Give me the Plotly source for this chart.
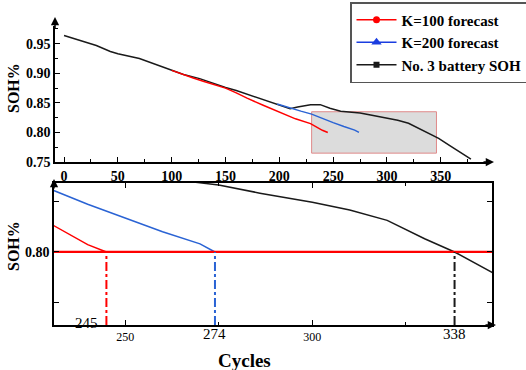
import plotly.graph_objects as go

# ---------------- data ----------------
soh_cycles = [0, 12, 30, 43, 50, 70, 83, 100, 111, 126, 140, 150, 160, 170, 185,
              200, 210, 217, 229, 238, 247, 257, 266, 275, 286, 300, 310, 320,
              330, 338, 348, 358, 368, 378]
soh_values = [0.964, 0.957, 0.947, 0.937, 0.933, 0.925, 0.916, 0.905, 0.898, 0.891,
              0.882, 0.876, 0.871, 0.865, 0.855, 0.846, 0.840, 0.843, 0.847, 0.847,
              0.841, 0.836, 0.835, 0.833, 0.829, 0.8245, 0.8207, 0.8156, 0.8065,
              0.800, 0.790, 0.778, 0.767, 0.755]

k100_cycles = [100, 110, 120, 130, 140, 150, 160, 170, 185, 201, 215, 229, 240, 245]
k100_values = [0.905, 0.898, 0.892, 0.886, 0.880, 0.875, 0.867, 0.858, 0.846, 0.833,
               0.823, 0.815, 0.8036, 0.800]

k200_cycles = [198, 210, 220, 230, 240, 250, 260, 270, 274]
k200_values = [0.848, 0.841, 0.836, 0.831, 0.8235, 0.8166, 0.810, 0.804, 0.800]

threshold = 0.80
eol_cycles = [245, 274, 338]
eol_labels = ["245", "274", "338"]
zoom_x = [231, 348]
zoom_y = [0.764, 0.834]

top_yticks = [0.75, 0.80, 0.85, 0.90, 0.95]
top_ytext = ["0.75", "0.80", "0.85", "0.90", "0.95"]
top_xticks = [0, 50, 100, 150, 200, 250, 300, 350]

names = ["K=100 forecast", "K=200 forecast", "No. 3 battery SOH"]

# ---------------- style ----------------
RED = "#ff0000"
BLUE = "#2a63d4"
BLACK = "#1a1a1a"
FONT = "Liberation Serif"
W, H = 526, 370


def px(x):
    return x / W


def py(y):
    return 1 - y / H


fig = go.Figure()

# top panel
fig.add_trace(go.Scatter(x=soh_cycles, y=soh_values, mode="lines",
                         line=dict(color=BLACK, width=1.5), showlegend=False,
                         xaxis="x", yaxis="y"))
fig.add_trace(go.Scatter(x=k100_cycles, y=k100_values, mode="lines",
                         line=dict(color=RED, width=1.5), showlegend=False,
                         xaxis="x", yaxis="y"))
fig.add_trace(go.Scatter(x=k200_cycles, y=k200_values, mode="lines",
                         line=dict(color=BLUE, width=1.5), showlegend=False,
                         xaxis="x", yaxis="y"))

# bottom panel (zoom)
fig.add_trace(go.Scatter(x=soh_cycles, y=soh_values, mode="lines",
                         line=dict(color=BLACK, width=1.5), showlegend=False,
                         xaxis="x2", yaxis="y2"))
fig.add_trace(go.Scatter(x=k100_cycles, y=k100_values, mode="lines",
                         line=dict(color=RED, width=1.5), showlegend=False,
                         xaxis="x2", yaxis="y2"))
fig.add_trace(go.Scatter(x=k200_cycles, y=k200_values, mode="lines",
                         line=dict(color=BLUE, width=1.5), showlegend=False,
                         xaxis="x2", yaxis="y2"))
fig.add_trace(go.Scatter(x=zoom_x, y=[threshold, threshold], mode="lines",
                         line=dict(color=RED, width=2.2), showlegend=False,
                         xaxis="x2", yaxis="y2"))
for c, col in zip(eol_cycles, [RED, BLUE, BLACK]):
    fig.add_trace(go.Scatter(x=[c, c], y=[zoom_y[0], threshold], mode="lines",
                             line=dict(color=col, width=2, dash="dashdot"),
                             showlegend=False, xaxis="x2", yaxis="y2"))

# legend entries
for nm, col, sym, sz in zip(names, [RED, "#1a3de0", BLACK],
                            ["circle", "triangle-up", "square"], [7, 9, 6]):
    fig.add_trace(go.Scatter(x=[None], y=[None], mode="lines+markers", name=nm,
                             line=dict(color=col, width=1.5),
                             marker=dict(symbol=sym, size=sz, color=col)))

# gray zoom rectangle on top panel
fig.add_shape(type="rect", xref="x", yref="y", x0=zoom_x[0] - 1, x1=zoom_x[1] - 2,
              y0=zoom_y[0] + 0.001, y1=zoom_y[1] + 0.001,
              fillcolor="#dcdcdc", line=dict(color="#e08a8a", width=1), layer="below")

axis_font = dict(family=FONT, size=14, color="black", weight="bold")

fig.update_layout(
    template="none",
    width=W, height=H, margin=dict(l=0, r=0, t=0, b=0, autoexpand=False),
    paper_bgcolor="white", plot_bgcolor="rgba(0,0,0,0)",
    font=dict(family=FONT, color="black"),
    xaxis=dict(domain=[px(55), px(486)], range=[-8.4, 392], tickvals=top_xticks,
               ticks="inside", ticklen=5, tickwidth=1.2, tickcolor="black",
               minor=dict(ticks="inside", dtick=25, tick0=0, ticklen=3, tickcolor="black"),
               showline=True, linecolor="black", linewidth=1.5, showgrid=False,
               zeroline=False, tickfont=axis_font, anchor="y", automargin=False),
    yaxis=dict(domain=[py(162), py(26)], range=[0.75, 0.98], tickvals=top_yticks,
               ticktext=top_ytext, ticks="inside", ticklen=5, tickwidth=1.2,
               tickcolor="black",
               minor=dict(ticks="inside", dtick=0.025, tick0=0.75, ticklen=3,
                          tickcolor="black"),
               showline=True, linecolor="black", linewidth=1.5, showgrid=False,
               zeroline=False, tickfont=axis_font, anchor="x", automargin=False),
    xaxis2=dict(domain=[px(54), px(492)], range=zoom_x, tickvals=[250, 300],
                ticks="inside", ticklen=5, tickwidth=1.2, tickcolor="black",
                minor=dict(tickvals=[275, 325], ticks="inside", ticklen=3,
                           tickcolor="black"),
                showline=True, linecolor="black", linewidth=1.5, mirror="ticks",
                showgrid=False, zeroline=False,
                tickfont=dict(family=FONT, size=12, color="black"), anchor="y2",
                automargin=False),
    yaxis2=dict(domain=[py(325), py(183)], range=zoom_y,
                tickvals=[0.775, threshold, 0.825], ticktext=["", "0.80", ""],
                ticks="inside", ticklen=5, tickwidth=1.2, tickcolor="black",
                showline=True, linecolor="black", linewidth=1.5, mirror="ticks",
                showgrid=False, zeroline=False, tickfont=axis_font, anchor="x2",
                automargin=False),
    legend=dict(x=px(350), y=py(2), xanchor="left", yanchor="top",
                bgcolor="white", bordercolor="#555555", borderwidth=1.5,
                font=dict(family=FONT, size=15, color="black", weight="bold"),
                itemwidth=40, tracegroupgap=0),
)

ann = []
# axis arrows (tail given as pixel offset from tip)
arrow = dict(showarrow=True, arrowhead=2, arrowsize=1.1, arrowwidth=1.5,
             arrowcolor="black", xref="paper", yref="paper", axref="pixel",
             ayref="pixel", text="", standoff=0)
ann.append(dict(arrow, x=px(55), y=py(17), ax=0, ay=13))
ann.append(dict(arrow, x=px(494), y=py(162), ax=-12, ay=0))
ann.append(dict(arrow, x=px(54), y=py(179), ax=0, ay=11))
ann.append(dict(arrow, x=px(496), y=py(325), ax=-12, ay=0))

# EOL labels
for c, lab, shift, yy in zip(eol_cycles, eol_labels, [-20, 0, 0], [323, 334, 334]):
    ann.append(dict(x=c, xref="x2", y=py(yy), yref="paper", text=lab,
                    showarrow=False, xshift=shift, xanchor="center", yanchor="middle",
                    font=dict(family=FONT, size=15, color="black")))

# axis titles
ann.append(dict(x=px(244), y=py(360), xref="paper", yref="paper", text="Cycles",
                showarrow=False, xanchor="center", yanchor="middle",
                font=dict(family=FONT, size=19, color="black", weight="bold")))
for yc in [88, 246]:
    ann.append(dict(x=px(13), y=py(yc), xref="paper", yref="paper", text="SOH%",
                    textangle=-90, showarrow=False, xanchor="center", yanchor="middle",
                    font=dict(family=FONT, size=16, color="black", weight="bold")))

fig.update_layout(annotations=ann)
fig.write_html("out.html",
               config={"displayModeBar": False},
               post_script="document.body.style.margin='0';"
                           "document.body.style.overflow='hidden';")
